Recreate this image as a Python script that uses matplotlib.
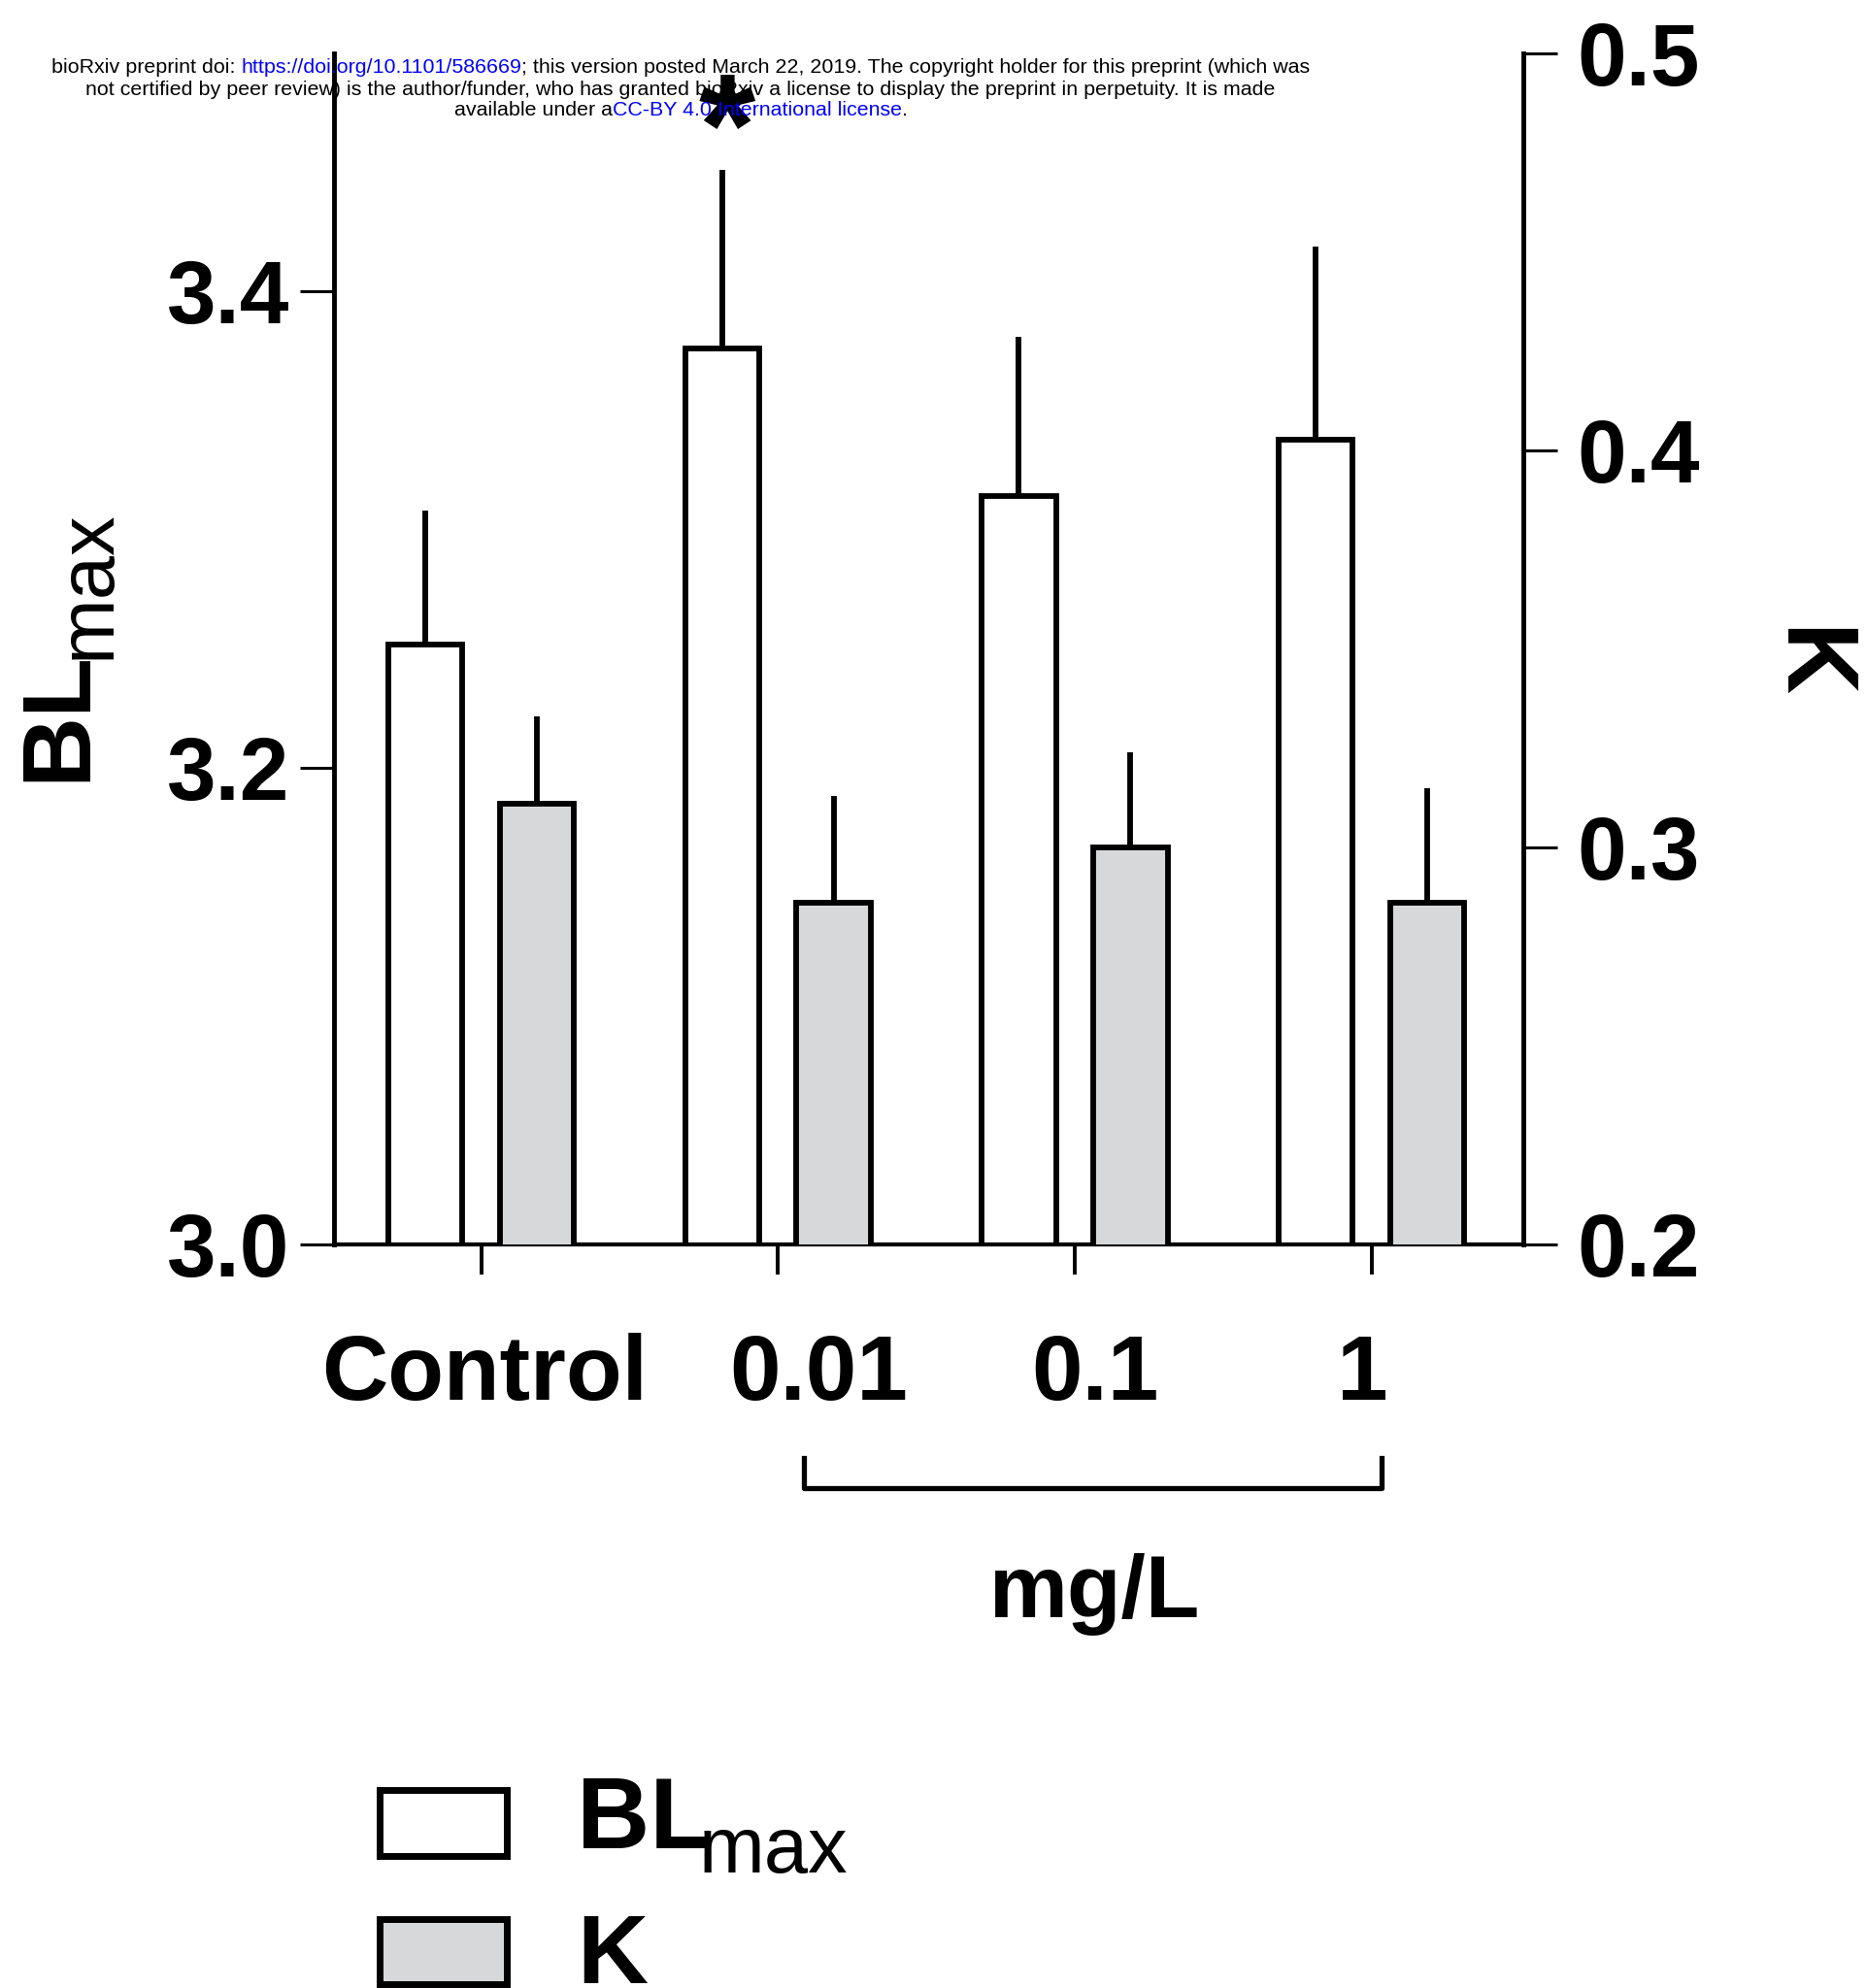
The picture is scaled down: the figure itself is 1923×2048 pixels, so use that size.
import numpy as np
import matplotlib
matplotlib.use('Agg')
import matplotlib.pyplot as plt
from matplotlib.patches import Rectangle
from matplotlib.lines import Line2D
from matplotlib.transforms import blended_transform_factory

plt.rcParams['font.family'] = ['Liberation Sans', 'DejaVu Sans']

# group means and upper SEM
groups = ['Control', '0.01', '0.1', '1']
bl_mean = [3.252, 3.376, 3.314, 3.338]
bl_sem = [0.056, 0.075, 0.067, 0.081]
k_mean = [0.311, 0.286, 0.300, 0.286]
k_sem = [0.022, 0.027, 0.024, 0.029]
bl_ticks = [3.0, 3.2, 3.4]
k_ticks = [0.2, 0.3, 0.4, 0.5]

W, H = 1923, 2048
fig = plt.figure(figsize=(W / 100, H / 100), dpi=100)
ax = fig.add_axes([344 / W, 1 - 1282 / H, (1569 - 344) / W, (1282 - 55) / H])
ax2 = ax.twinx()

x = np.arange(len(groups))
off = 0.188
bw = 0.25
grey = '#d7d8da'
lw = 4.2

ax.bar(x - off, bl_mean, width=bw, color='white', edgecolor='black', linewidth=lw, zorder=2)
ax.errorbar(x - off, bl_mean, yerr=[np.zeros(len(x)), bl_sem], fmt='none',
            ecolor='black', elinewidth=lw, capsize=0, zorder=1)
ax2.bar(x + off, k_mean, width=bw, color=grey, edgecolor='black', linewidth=lw, zorder=2)
ax2.errorbar(x + off, k_mean, yerr=[np.zeros(len(x)), k_sem], fmt='none',
             ecolor='black', elinewidth=lw, capsize=0, zorder=1)

ax.set_xlim(-0.496, 3.512)
ax.set_ylim(3.0, 3.5)
ax2.set_ylim(0.2, 0.5)

for s in ['top', 'right']:
    ax.spines[s].set_visible(False)
for s in ['top', 'left', 'bottom']:
    ax2.spines[s].set_visible(False)
ax.spines['left'].set_linewidth(3.5)
ax.spines['bottom'].set_linewidth(3)
ax2.spines['right'].set_linewidth(3.5)

ax.set_yticks(bl_ticks, labels=[f'{v:.1f}' for v in bl_ticks], fontsize=65.5, fontweight='bold')
ax2.set_yticks(k_ticks, labels=[f'{v:.1f}' for v in k_ticks], fontsize=65.5, fontweight='bold')
ax.tick_params(axis='y', length=25, width=2.2, pad=8)
ax2.tick_params(axis='y', length=25, width=2.2, pad=15)
ax.set_xticks(x, labels=[])
ax.tick_params(axis='x', length=22, width=2.8)

# category names sit a little off their ticks
trans = blended_transform_factory(ax.transData, fig.transFigure)
label_shift = [0.013, 0.137, 0.069, -0.03]
for xi, g, sh in zip(x, groups, label_shift):
    ax.text(xi + sh, 1 - 1442 / H, g, transform=trans, ha='center', va='baseline',
            fontsize=68, fontweight='bold')

# bracket over the dosed groups
fig.add_artist(Line2D([1.088, 1.088, 3.034, 3.034],
                      [1 - 1502 / H, 1 - 1533 / H, 1 - 1533 / H, 1 - 1502 / H],
                      transform=trans, color='black', lw=3.8, clip_on=False))
fig.text(1128 / W, 1 - 1666 / H, 'mg/L', ha='center', va='baseline',
         fontsize=65.5, fontweight='bold')


def bl_max(xb, yb, xs, ys, rot, size=73):
    # bold "BL" with a smaller regular "max" subscript
    kw = dict(rotation=rot, rotation_mode='anchor', ha='left', va='baseline')
    fig.text(xb / W, 1 - yb / H, 'BL', fontsize=size, fontweight='bold', **kw)
    fig.text(xs / W, 1 - ys / H, 'max', fontsize=58.5, **kw)


bl_max(87, 805, 113, 679, 90)
fig.text(1861 / W, 1 - 683 / H, 'K', rotation=270, ha='center', va='center',
         fontsize=74, fontweight='bold')

ax.annotate('*', xy=(1 - off, bl_mean[1] + bl_sem[1]), xytext=(3.5, -4),
            textcoords='offset points', ha='center', va='baseline',
            fontsize=108, fontweight='bold', annotation_clip=False)

# legend
fig.add_artist(Rectangle((391 / W, 1 - 1912 / H), 131 / W, 68 / H, transform=fig.transFigure,
                         facecolor='white', edgecolor='black', lw=5))
fig.add_artist(Rectangle((391 / W, 1 - 2044 / H), 131 / W, 67 / H, transform=fig.transFigure,
                         facecolor=grey, edgecolor='black', lw=5))
bl_max(594, 1904, 720, 1929, 0, size=75)
fig.text(594 / W, 1 - 2043 / H, 'K', ha='left', va='baseline', fontsize=73, fontweight='bold')

# preprint header, centred lines with blue links
header = [
    (75, [('bioRxiv preprint doi: ', 'black'), ('https://doi.org/10.1101/586669', 'blue'),
          ('; this version posted March 22, 2019. The copyright holder for this preprint (which was', 'black')]),
    (98, [('not certified by peer review) is the author/funder, who has granted bioRxiv a license to display the preprint in perpetuity. It is made', 'black')]),
    (119, [('available under a', 'black'), ('CC-BY 4.0 International license', 'blue'), ('.', 'black')]),
]
renderer = fig.canvas.get_renderer()
hsize = 15.4


def text_width(s):
    t = fig.text(0, 0, s + '|', fontsize=hsize)
    bar = fig.text(0, 0, '|', fontsize=hsize)
    w = t.get_window_extent(renderer).width - bar.get_window_extent(renderer).width
    t.remove()
    bar.remove()
    return w


for yb, parts in header:
    full = ''.join(p for p, _ in parts)
    total = text_width(full)
    x0 = 701 - total / 2
    done = ''
    for s, c in parts:
        fig.text((x0 + text_width(done) if done else x0) / W, 1 - yb / H, s, color=c,
                 fontsize=hsize, ha='left', va='baseline')
        done += s

fig.savefig('out.png', dpi=100)
